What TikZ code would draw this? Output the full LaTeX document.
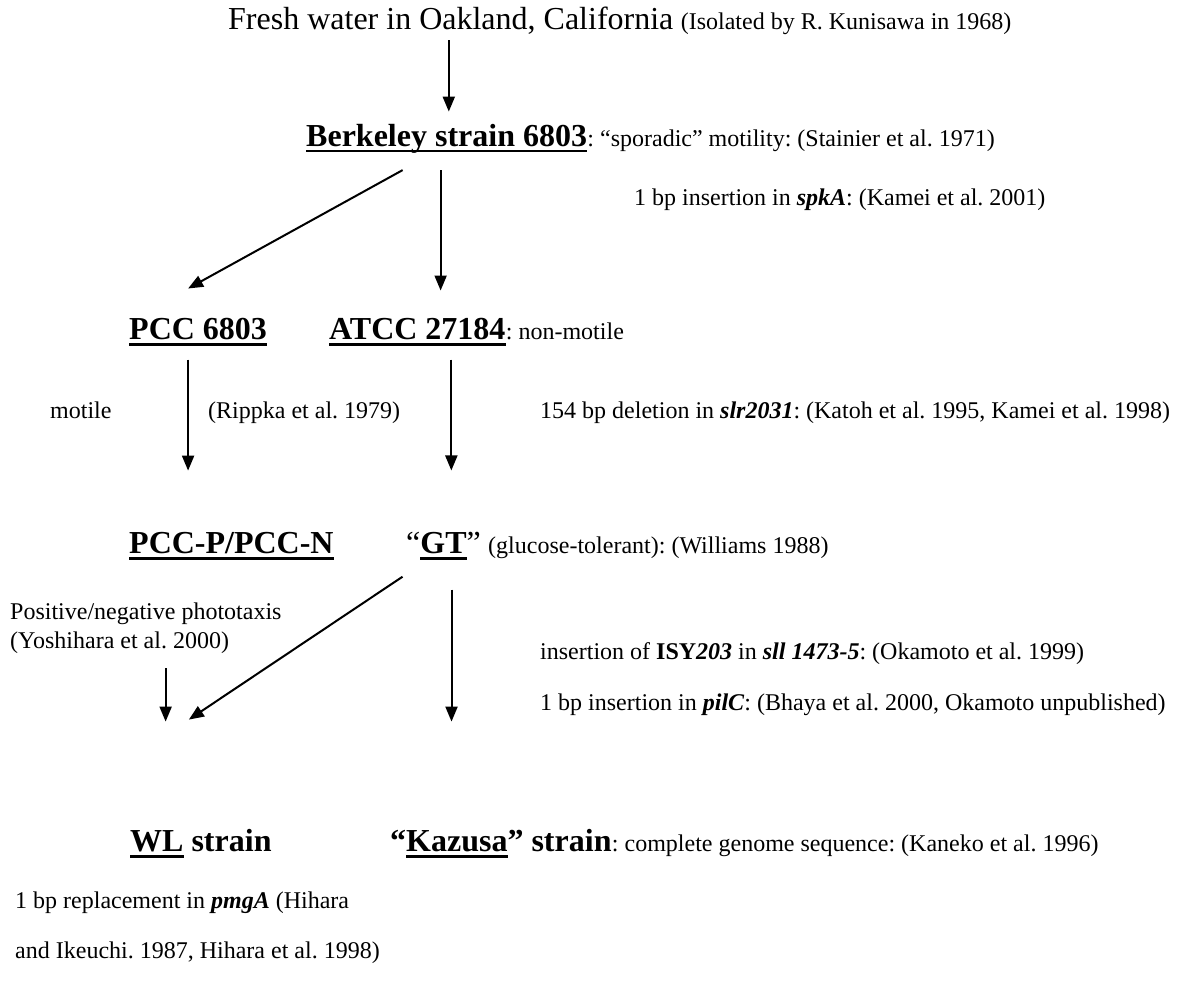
\documentclass[tikz,border=0pt]{standalone}
\usepackage{fontspec}
\setmainfont{Liberation Serif}
\usetikzlibrary{arrows.meta}
\frenchspacing
\newcommand{\bfit}[1]{\textbf{\textit{#1}}}
\newsavebox{\sottobox}
\newcommand{\sottolinea}[1]{\sbox{\sottobox}{#1}\rlap{\rule[-6.5pt]{\wd\sottobox}{2.5pt}}\usebox{\sottobox}}
\tikzset{
  ceppo/.style   = {anchor=base west, inner sep=0pt, font=\fontsize{32}{38}\selectfont\bfseries},
  titolo/.style  = {anchor=base west, inner sep=0pt, font=\fontsize{32}{38}\selectfont},
  nota/.style    = {anchor=base west, inner sep=0pt, font=\fontsize{24}{29}\selectfont},
  freccia/.style = {line width=2pt, -{Triangle[length=15pt,width=12pt]}}
}

\begin{document}
\begin{tikzpicture}[x=1pt,y=-1pt]
  \useasboundingbox (0,0) rectangle (1186,990);
  % origine e ceppi derivati
  \node[titolo] (fresh) at (228,30) {Fresh water in Oakland, California};
  \node[nota] (iso) at ([xshift=7pt]fresh.base east) {(Isolated by R. Kunisawa in 1968)};
  \node[ceppo] (berk) at (306,146) {\sottolinea{Berkeley strain 6803}};
  \node[nota] (berkn) at (berk.base east) {: “sporadic” motility: (Stainier et al. 1971)};
  \node[nota] (spka) at (634,205) {1 bp insertion in \bfit{spkA}: (Kamei et al. 2001)};

  \node[ceppo] (pcc) at (129,339) {\sottolinea{PCC 6803}};
  \node[ceppo] (atcc) at (329,339) {\sottolinea{ATCC 27184}};
  \node[nota] (atccn) at (atcc.base east) {: non-motile};
  \node[nota] (motile) at (50,418) {motile};
  \node[nota] (rippka) at (208,418) {(Rippka et al. 1979)};
  \node[nota] (slr) at (540,418) {154 bp deletion in \bfit{slr2031}: (Katoh et al. 1995, Kamei et al. 1998)};

  \node[ceppo] (pccp) at (129,553) {\sottolinea{PCC-P/PCC-N}};
  \node[ceppo] (gt) at (406,553) {\mdseries“\bfseries\sottolinea{GT}\mdseries”};
  \node[nota] (gtn) at ([xshift=7pt]gt.base east) {(glucose-tolerant): (Williams 1988)};

  \node[nota] (foto) at (10,619) {Positive/negative phototaxis};
  \node[nota] (yoshi) at (10,648) {(Yoshihara et al. 2000)};
  \node[nota] (isy) at (540,659) {insertion of \textbf{ISY\textit{203}} in \bfit{sll 1473-5}: (Okamoto et al. 1999)};
  \node[nota] (pilc) at (540,710) {1 bp insertion in \bfit{pilC}: (Bhaya et al. 2000, Okamoto unpublished)};

  \node[ceppo] (wl) at (130,851) {\sottolinea{WL} strain};
  \node[ceppo] (kaz) at (390,851) {“\sottolinea{Kazusa}” strain};
  \node[nota] (kazn) at (kaz.base east) {: complete genome sequence: (Kaneko et al. 1996)};
  \node[nota] (pmga) at (15,908) {1 bp replacement in \bfit{pmgA} (Hihara};
  \node[nota] (ikeu) at (15,958) {and Ikeuchi. 1987, Hihara et al. 1998)};

  \draw[freccia] ([xshift=-2pt,yshift=-5pt]fresh.south) coordinate (f0) -- ([yshift=12pt]berk.north -| f0);
  \draw[freccia] ([xshift=-44pt,yshift=-17pt]berk.south) -- ([xshift=-10pt,yshift=29pt]pcc.north);
  \draw[freccia] ([xshift=-6pt,yshift=-17pt]berk.south) coordinate (b0) -- ([yshift=27pt]atcc.north -| b0);
  \draw[freccia] ([xshift=-10pt,yshift=-14pt]pcc.south) coordinate (p0) -- ([yshift=61pt]pccp.north -| p0);
  \draw[freccia] ([xshift=34pt,yshift=-14pt]atcc.south) coordinate (a0) -- ([yshift=61pt]gt.north -| a0);
  \draw[freccia] ([xshift=-41pt,yshift=-17pt]gt.south) -- ([xshift=-12pt,yshift=109pt]wl.north);
  \draw[freccia] ([xshift=46pt,yshift=-15pt]yoshi.south) coordinate (y0) -- ([yshift=107pt]wl.north -| y0);
  \draw[freccia] ([xshift=8pt,yshift=-30pt]gt.south) coordinate (g0) -- ([yshift=107pt]kaz.north -| g0);
\end{tikzpicture}
\end{document}
